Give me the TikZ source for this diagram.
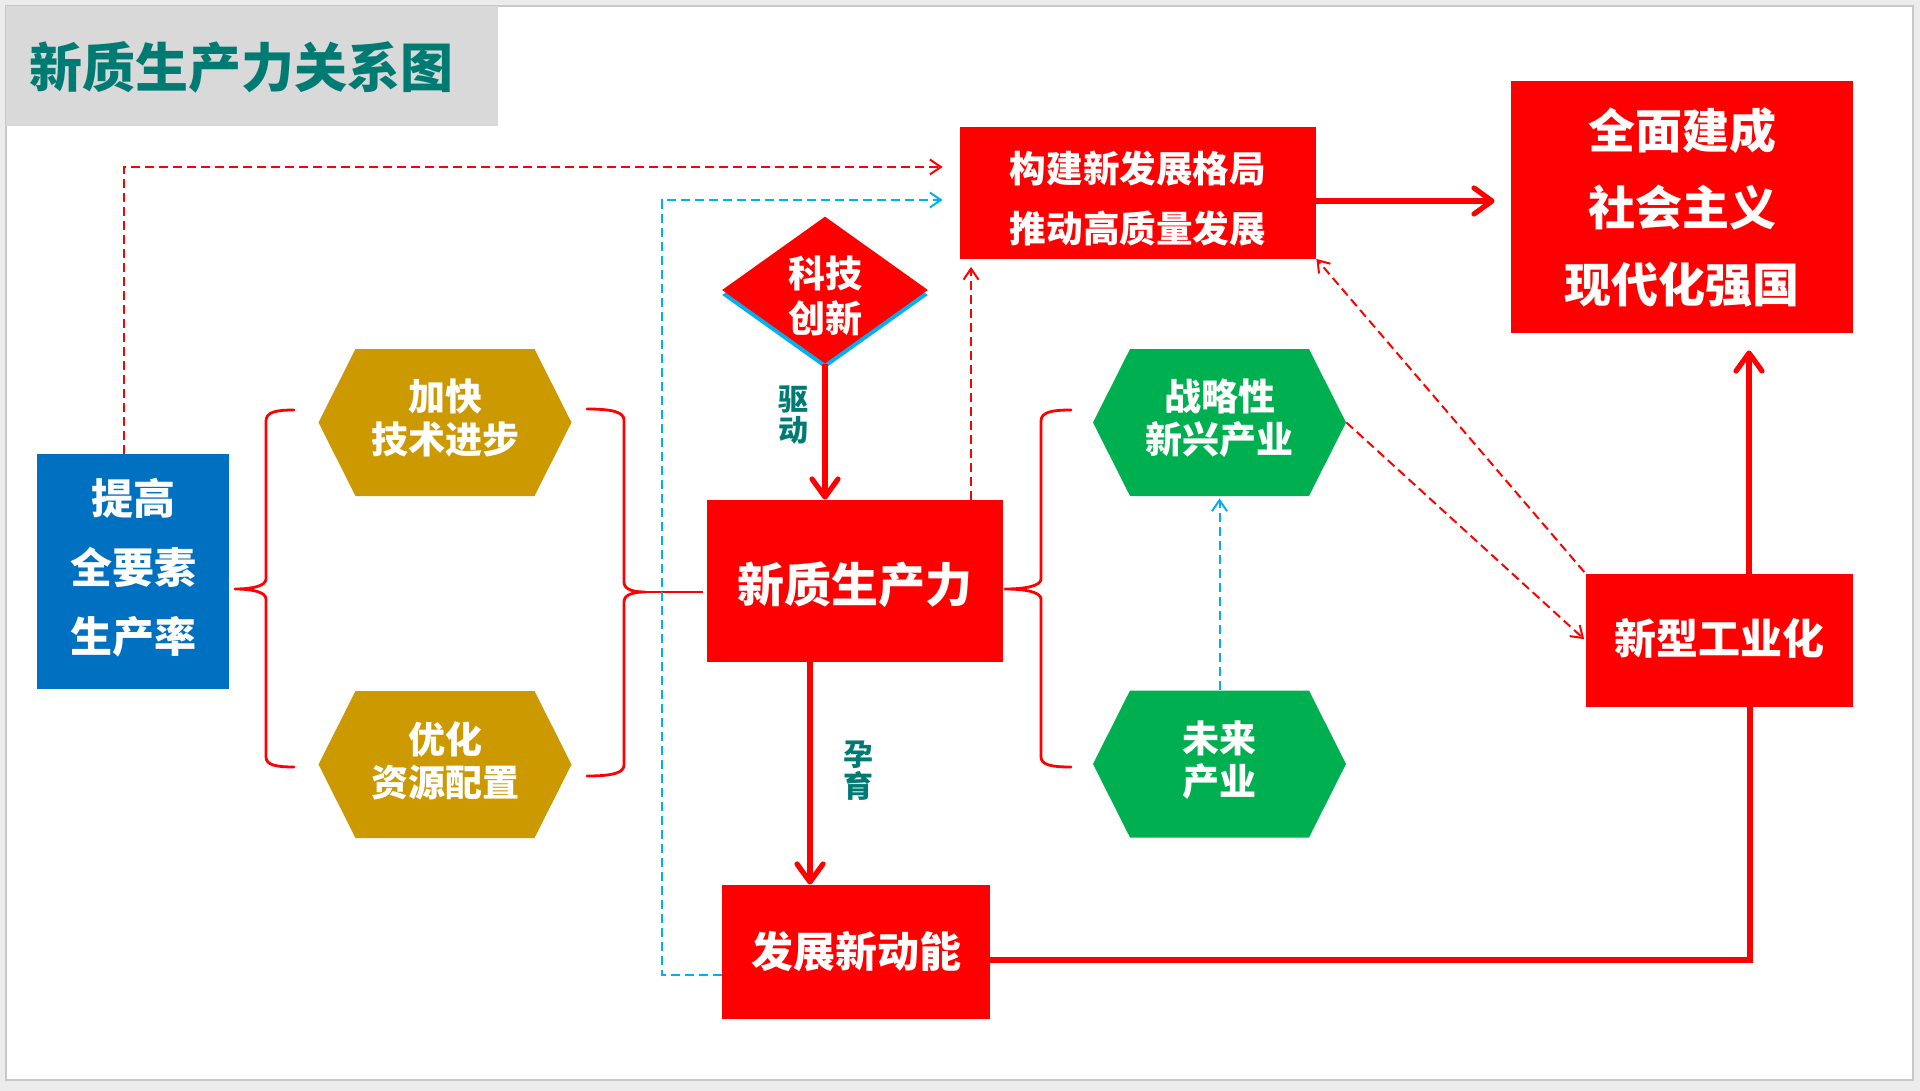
\documentclass[tikz,border=0pt]{standalone}
\usepackage{fontspec}
\setmainfont{Noto Sans CJK SC}
\usetikzlibrary{arrows.meta,shapes.geometric,shadows}
\definecolor{cred}{HTML}{FF0000}
\definecolor{cblue}{HTML}{0070C0}
\definecolor{cgold}{HTML}{CC9900}
\definecolor{cgreen}{HTML}{00B050}
\definecolor{cteal}{HTML}{007B73}
\definecolor{ccyan}{HTML}{00B0F0}
\definecolor{ctitle}{HTML}{D9D9D9}
\definecolor{cbg}{HTML}{ECECEC}
\definecolor{cframe}{HTML}{C8C8C8}
\newcommand{\mydn}[1]{\rule{0pt}{#1}}
\newcommand{\myup}[1]{\rule[-#1]{0pt}{0pt}}
\tikzset{
  box/.style={fill=cred, text=white, inner sep=0pt, align=center},
  hexa/.style={minimum width=126.5pt, minimum height=73.5pt, inner sep=0pt,
    text=white, align=center, font=\bfseries\fontsize{18.5pt}{21.5pt}\selectfont,
    path picture={\fill[#1] (path picture bounding box.west)
      -- ([xshift=18.5pt]path picture bounding box.north west)
      -- ([xshift=-18.5pt]path picture bounding box.north east)
      -- (path picture bounding box.east)
      -- ([xshift=-18.5pt]path picture bounding box.south east)
      -- ([xshift=18.5pt]path picture bounding box.south west) -- cycle;}},
  lbl/.style={text=cteal, align=center, inner sep=0pt, font=\bfseries\fontsize{15pt}{15.5pt}\selectfont},
  solidarrow/.style={draw=cred, line width=2.6pt, -{Straight Barb[length=9pt,width=13pt,round]}},
  rdash/.style={draw=cred, line width=1pt, dash pattern=on 4.5pt off 2.5pt, -{Straight Barb[length=5.5pt,width=7.5pt]}},
  bdash/.style={draw=ccyan, line width=1pt, dash pattern=on 4.5pt off 2.5pt, -{Straight Barb[length=5.5pt,width=7.5pt]}},
  bracepath/.style={draw=cred, line width=1.4pt, line cap=round, line join=round},
}
\begin{document}
\begin{tikzpicture}[x=0.5pt,y=-0.5pt]
\useasboundingbox (0,0) rectangle (1920,1091);
\fill[cbg] (0,0) rectangle (1920,1091);
\filldraw[fill=white, draw=cframe, line width=1.2pt] (6,6) rectangle (1913,1080);
% title
\fill[ctitle] (6,6) rectangle (498,126);
\node[text=cteal, inner sep=0pt, font=\bfseries\fontsize{26.5pt}{30pt}\selectfont] (title) at (241,67) {新质生产力关系图};

% nodes
\node[box, fill=cblue, minimum width=96pt, minimum height=117.5pt, font=\bfseries\fontsize{21pt}{34.5pt}\selectfont] (tg) at (133,571.5) {提高\\全要素\\生产率\myup{6.5pt}};
\node[hexa=cgold] (h1) at (445,422.5) {加快\\技术进步\myup{5.9pt}};
\node[hexa=cgold] (h2) at (445,764.5) {优化\\资源配置\myup{5.9pt}};
\node[hexa=cgreen] (g1) at (1219.5,422.5) {战略性\\新兴产业\myup{5.9pt}};
\node[hexa=cgreen] (g2) at (1219.5,764) {未来\\产业\myup{5.9pt}};
\node[box, minimum width=148pt, minimum height=81pt, font=\bfseries\fontsize{23.5pt}{28pt}\selectfont] (nq) at (855,581) {\mydn{24.4pt}新质生产力};
\node[diamond, aspect=1.4, fill=cred, text=white, inner sep=0pt, minimum width=103pt, minimum height=73.5pt, align=center,
  font=\bfseries\fontsize{18.5pt}{22.5pt}\selectfont,
  drop shadow={shadow xshift=0pt, shadow yshift=-2.5pt, fill=ccyan, opacity=1}] (kj) at (825,290) {\mydn{21.3pt}科技\\创新};
\node[box, minimum width=178pt, minimum height=65.5pt, font=\bfseries\fontsize{18.3pt}{30pt}\selectfont] (gj) at (1138,193) {\mydn{21.1pt}构建新发展格局\\推动高质量发展};
\node[box, minimum width=171pt, minimum height=126pt, font=\bfseries\fontsize{23.5pt}{38.5pt}\selectfont] (qm) at (1682,207) {全面建成\\社会主义\\现代化强国};
\node[box, minimum width=133.5pt, minimum height=66.5pt, font=\bfseries\fontsize{21pt}{25pt}\selectfont] (xx) at (1719.5,640.5) {新型工业化\myup{4.5pt}};
\node[box, minimum width=134pt, minimum height=67pt, font=\bfseries\fontsize{21pt}{25pt}\selectfont] (fz) at (856,952) {发展新动能};
\node[lbl] (qd) at (793,415) {驱\\动};
\node[lbl, font=\bfseries\fontsize{15pt}{16pt}\selectfont] (yy) at (858,771) {孕\\育};

% braces
\draw[bracepath] (294,410) .. controls (276,410) and (266,412) .. (266,421) -- (266,579)
  .. controls (266,586) and (252,589) .. (235,589)
  .. controls (252,589) and (266,592) .. (266,599) -- (266,757)
  .. controls (266,765) and (276,767) .. (294,767);
\draw[bracepath] (587,409) .. controls (612,409) and (624,412) .. (624,420) -- (624,582)
  .. controls (624,589) and (632,592) .. (645,592)
  .. controls (632,592) and (624,595) .. (624,602) -- (624,765)
  .. controls (624,773) and (612,776) .. (587,776);
\draw[cred, line width=1.4pt] (645,592) -- ([xshift=-2pt]nq.west |- 645,592);
\draw[bracepath] (1071,410) .. controls (1052,410) and (1041,412) .. (1041,421) -- (1041,579)
  .. controls (1041,586) and (1025,589) .. (1005,589)
  .. controls (1025,589) and (1041,592) .. (1041,599) -- (1041,757)
  .. controls (1041,765) and (1052,767) .. (1071,767);

% dashed connectors
\draw[rdash] ([xshift=-4.5pt]tg.north) |- ([xshift=-8.5pt,yshift=13pt]gj.west);
\draw[bdash] ([yshift=-11.5pt]fz.west) -- (662,975) -- (662,200) -- ([xshift=-8.5pt,yshift=-3.5pt]gj.west);
\draw[rdash, shorten >=4pt] ([xshift=58pt]nq.north) -- ([xshift=58pt]nq.north |- gj.south);
\draw[bdash, shorten >=1pt] (g2.north) -- (g1.south);
\draw[rdash, shorten >=1pt] (g1.east) -- (xx.west);
\draw[rdash, shorten <=1pt] (xx.north west) -- (gj.south east);

% solid connectors
\draw[solidarrow] (kj.south) -- (kj.south |- nq.north);
\draw[solidarrow] ([xshift=-22.5pt]nq.south) -- ([xshift=-22.5pt]nq.south |- fz.north);
\draw[solidarrow, shorten >=8pt] ([yshift=-4pt]gj.east) -- ([yshift=-4pt]gj.east -| qm.west);
\draw[solidarrow, shorten >=8.5pt] ([xshift=14.75pt]xx.north) -- ([xshift=14.75pt]xx.north |- qm.south);
\draw[cred, line width=2.6pt] ([yshift=-4pt]fz.east) -- (1750,960) -- ([xshift=15.25pt]xx.south);
\end{tikzpicture}
\end{document}
